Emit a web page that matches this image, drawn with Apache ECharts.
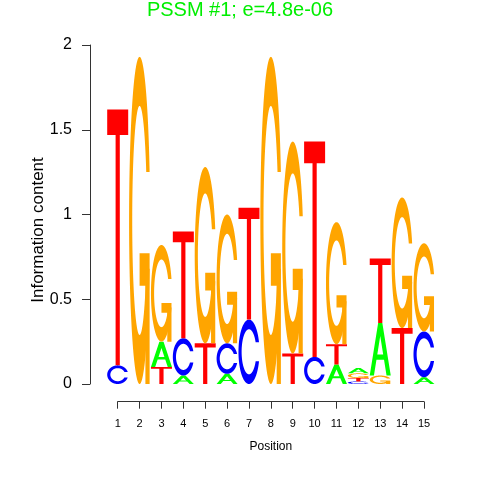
<!DOCTYPE html>
<html><head><meta charset="utf-8">
<script src="https://cdn.jsdelivr.net/npm/echarts@6/dist/echarts.min.js"></script>
<style>html,body{margin:0;padding:0;background:#fff}#c{width:480px;height:480px}</style>
</head><body><div id="c"></div>
<script>
// ---- data ----
const positions = [1,2,3,4,5,6,7,8,9,10,11,12,13,14,15];
const letterNames = ['A','C','G','T'];
const heightA = [0,    0,    0.15, 0.05, 0,    0.06, 0,    0,    0,    0,    0.115,0.032,0.31, 0,    0.04];
const heightC = [0.11, 0,    0,    0.22, 0,    0.18, 0.38, 0,    0,    0.16, 0,    0.015,0,    0,    0.27];
const heightG = [0,    1.93, 0.57, 0,    1.04, 0.76, 0,    1.93, 1.25, 0,    0.72, 0.028,0.05, 0.77, 0.52];
const heightT = [1.51, 0,    0.10, 0.63, 0.24, 0,    0.66, 0,    0.18, 1.27, 0.12, 0.02, 0.38, 0.33, 0];
const yTickLabels = ['0','0.5','1','1.5','2'];
const titleText = 'PSSM #1; e=4.8e-06';
const yAxisTitle = 'Information content';

const letterColors = {A:'#00ff00', C:'#0000ff', G:'#ffa500', T:'#ff0000'};
const FONT = 'Liberation Sans, Arial, Helvetica, sans-serif';

// ---- letter glyph polygons (unit box, y up), seqLogo style ----
function seq(a,b,n){const r=[];for(let i=0;i<n;i++)r.push(a+(b-a)*i/(n-1));return r;}
function ringC(){
  const a1=seq(0.3+Math.PI/2,Math.PI,100), a2=seq(Math.PI,1.5*Math.PI,100);
  const xl1=a1.map(a=>0.5+0.5*Math.sin(a)), yl1=a1.map(a=>0.5+0.5*Math.cos(a));
  const xl2=a2.map(a=>0.5+0.5*Math.sin(a)), yl2=a2.map(a=>0.5+0.5*Math.cos(a));
  const xl=xl1.concat(xl2), yl=yl1.concat(yl2);
  const x=xl.concat(xl.slice().reverse()), y=yl.concat(yl.slice().reverse().map(v=>1-v));
  const maxy=Math.max(...yl1);
  let xi1=a1.map(a=>0.5+0.35*Math.sin(a)), yi1=a1.map(a=>0.5+0.35*Math.cos(a));
  const keep=yi1.map(v=>v<=maxy);
  xi1=xi1.filter((v,i)=>keep[i]); yi1=yi1.filter((v,i)=>keep[i]); yi1[0]=maxy;
  const xi2=a2.map(a=>0.5+0.35*Math.sin(a)), yi2=a2.map(a=>0.5+0.35*Math.cos(a));
  const xi=xi1.concat(xi2), yi=yi1.concat(yi2);
  const x1=xi.concat(xi.slice().reverse()), y1=yi.concat(yi.slice().reverse().map(v=>1-v));
  const X=x.concat(x1.slice().reverse()), Y=y.concat(y1.slice().reverse());
  return {ring:X.map((v,i)=>[v,Y[i]]), r1:Math.max(...xl1)};
}
const cr=ringC();
function pts(xs,ys,s){return xs.map((v,i)=>[v*s,ys[i]*s]);}
const glyphs = {
  A:[[pts([0,4,6,10,8,6.8,3.2,2],[0,10,10,0,0,3,3,0],0.1), pts([3.6,6.4,5],[4,4,7.5],0.1)]],
  C:[[cr.ring]],
  G:[[cr.ring],[pts([cr.r1,0.5,0.5,cr.r1-0.2,cr.r1-0.2,cr.r1],[0.4,0.4,0.3,0.3,0,0],1)]],
  T:[[pts([0,10,10,6,6,4,4,0],[10,10,9,9,0,0,9,9],0.1)]]
};

// ---- build stacked data ----
const heights = {A:heightA, C:heightC, G:heightG, T:heightT};
const data = [];
positions.forEach((p,i)=>{
  const col = letterNames.map((L,li)=>({li, h:heights[L][i]})).filter(o=>o.h>0);
  col.sort((a,b)=>a.h-b.h);
  let base=0;
  col.forEach(o=>{ data.push([p, base, base+o.h, o.li]); base+=o.h; });
});

const W = 0.96;
function renderItem(params, api){
  const p=api.value(0), y0=api.value(1), y1=api.value(2), L=letterNames[api.value(3)];
  const children = glyphs[L].map(shape=>{
    let d='';
    shape.forEach(ring=>{
      ring.forEach((uv,k)=>{
        const c=api.coord([p-W/2+uv[0]*W, y0+uv[1]*(y1-y0)]);
        d += (k===0?'M':'L')+c[0].toFixed(2)+' '+c[1].toFixed(2)+' ';
      });
      d+='Z ';
    });
    return {type:'path', shape:{pathData:d}, style:{fill:letterColors[L], stroke:null}};
  });
  return {type:'group', children};
}

const chart = echarts.init(document.getElementById('c'), null, {renderer:'canvas'});
chart.setOption({
  animation:false,
  backgroundColor:'#fff',
  title:{text:titleText, left:'center', top:-5, textStyle:{color:'#00ee00', fontSize:20, fontWeight:'normal', fontFamily:FONT}},
  graphic:[{
    type:'text', x:38, y:230, rotation:Math.PI/2,
    style:{text:yAxisTitle, fill:'#000', fontSize:17, fontFamily:FONT, align:'center', verticalAlign:'middle'}
  }],
  grid:[
    {left:117.7, right:56, top:45, bottom:96},
    {left:117.7, right:56, top:400, height:1.7}
  ],
  xAxis:[
    {gridIndex:0, type:'value', min:1, max:15, show:false},
    {gridIndex:1, type:'value', min:1, max:15, interval:1, position:'bottom',
     axisLine:{show:true, lineStyle:{color:'#333', width:1}},
     axisTick:{show:true, length:7, lineStyle:{color:'#333'}},
     axisLabel:{fontSize:11, color:'#000', margin:17, fontFamily:FONT, showMinLabel:true, showMaxLabel:true},
     splitLine:{show:false},
     name:'Position', nameLocation:'middle', nameGap:39,
     nameTextStyle:{fontSize:12, color:'#000', fontFamily:FONT}}
  ],
  yAxis:[
    {gridIndex:0, type:'value', min:0, max:2, interval:0.5, offset:27.7,
     axisLine:{show:true, lineStyle:{color:'#333', width:1}},
     axisTick:{show:true, length:8, lineStyle:{color:'#333'}},
     axisLabel:{fontSize:16, color:'#000', margin:18, fontFamily:FONT,
       formatter:(v)=>yTickLabels[Math.round(v/0.5)]},
     splitLine:{show:false}},
    {gridIndex:1, type:'value', min:0, max:1, show:false}
  ],
  series:[{
    type:'custom', coordinateSystem:'cartesian2d', xAxisIndex:0, yAxisIndex:0,
    encode:{x:0, y:[1,2]}, clip:false, silent:true,
    data, renderItem
  }]
});
</script></body></html>
